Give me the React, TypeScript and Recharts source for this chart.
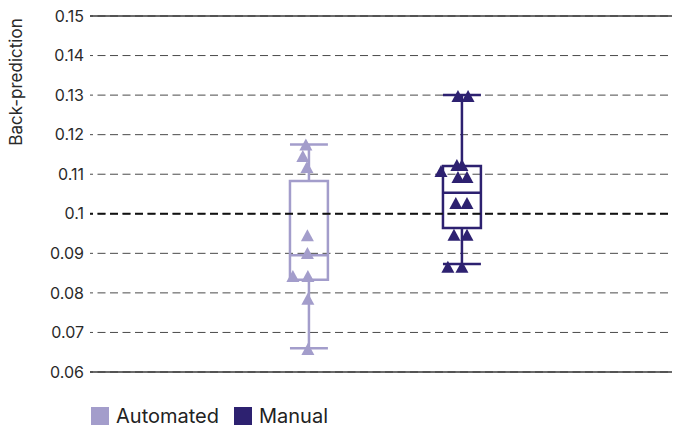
import {
  ComposedChart, Scatter, XAxis, YAxis, CartesianGrid,
  ReferenceArea, ReferenceLine,
} from 'recharts';

const SERIES = ['Automated', 'Manual'];
const COLORS = ['#a39dcb', '#2d2170'];

// box stats per series: [whiskerLow, q1, median, q3, whiskerHigh]
const automatedBox = [0.066, 0.0833, 0.0895, 0.1083, 0.1175];
const manualBox = [0.0873, 0.0964, 0.1053, 0.1121, 0.1300];

// points: x offset from the category centre (in category units), value
const automatedOffsets = [-0.02, -0.04, -0.013, -0.01, -0.01, -0.105, -0.007, -0.007, -0.007];
const automatedValues = [0.1175, 0.1146, 0.1118, 0.0946, 0.0901, 0.0843, 0.0843, 0.0785, 0.0658];

const manualOffsets = [-0.026, 0.04, -0.033, 0, -0.137, -0.026, 0.033, -0.04, 0.033, -0.052, 0.033, -0.092, 0];
const manualValues = [0.1298, 0.1298, 0.1123, 0.1123, 0.1108, 0.1093, 0.1093, 0.1027, 0.1027, 0.0947, 0.0947, 0.0866, 0.0866];

const yTicks = [0.06, 0.07, 0.08, 0.09, 0.1, 0.11, 0.12, 0.13, 0.14, 0.15];

const BOX_HALF = 0.124;
const FONT = 'Inter, "Noto Sans", sans-serif';
const DASH = '8 4.5';

const toPoints = (centre: number, offsets: number[], values: number[]) =>
  values.map((v, i) => ({ x: centre + offsets[i], y: v }));

const Triangle = (color: string) => (props: any) => {
  const { cx, cy } = props;
  const w = 13, h = 12;
  return (
    <polygon
      points={`${cx - w / 2},${cy + h / 2} ${cx + w / 2},${cy + h / 2} ${cx},${cy - h / 2}`}
      fill={color}
    />
  );
};

function BoxPlot(centre: number, stats: number[], color: string, key: string) {
  const [lo, q1, med, q3, hi] = stats;
  const sw = 2.5;
  return [
    <ReferenceLine key={key + 'w1'} segment={[{ x: centre, y: lo }, { x: centre, y: q1 }]} stroke={color} strokeWidth={sw} />,
    <ReferenceLine key={key + 'w2'} segment={[{ x: centre, y: q3 }, { x: centre, y: hi }]} stroke={color} strokeWidth={sw} />,
    <ReferenceLine key={key + 'c1'} segment={[{ x: centre - BOX_HALF, y: lo }, { x: centre + BOX_HALF, y: lo }]} stroke={color} strokeWidth={sw} />,
    <ReferenceLine key={key + 'c2'} segment={[{ x: centre - BOX_HALF, y: hi }, { x: centre + BOX_HALF, y: hi }]} stroke={color} strokeWidth={sw} />,
    <ReferenceArea key={key + 'b'} x1={centre - BOX_HALF} x2={centre + BOX_HALF} y1={q1} y2={q3}
      fill="none" fillOpacity={0} stroke={color} strokeWidth={sw} strokeOpacity={1} />,
    <ReferenceLine key={key + 'm'} segment={[{ x: centre - BOX_HALF, y: med }, { x: centre + BOX_HALF, y: med }]} stroke={color} strokeWidth={sw} />,
  ];
}

export default function App() {
  const autoPts = toPoints(1, automatedOffsets, automatedValues);
  const manualPts = toPoints(2, manualOffsets, manualValues);

  return (
    <div style={{ position: 'absolute', left: 0, top: 0, width: 673, height: 431, background: '#fff', fontFamily: FONT }}>
      <ComposedChart width={673} height={400} margin={{ top: 16, right: 1, bottom: 28, left: 0 }}>
        <CartesianGrid vertical={false} stroke="#4a4a4a" strokeDasharray={DASH} strokeDashoffset={5} />
        <XAxis type="number" dataKey="x" domain={[-0.431, 3.373]} allowDataOverflow hide />
        <YAxis
          type="number"
          dataKey="y"
          domain={[0.06, 0.15]}
          allowDataOverflow
          ticks={yTicks}
          width={90}
          axisLine={false}
          tickLine={false}
          tickSize={0}
          tickMargin={6}
          tick={{ fontSize: 16, fill: '#2a2a2a', fontFamily: FONT }}
          tickFormatter={(v: number) => String(Number(v.toFixed(2)))}
        />
        <ReferenceLine y={0.15} stroke="#3a3a3a" strokeWidth={1.5} />
        <ReferenceLine y={0.06} stroke="#3a3a3a" strokeWidth={1.5} />
        <ReferenceLine y={0.1} stroke="#111" strokeWidth={2} strokeDasharray={DASH} strokeDashoffset={5} />
        {BoxPlot(1, automatedBox, COLORS[0], 'a')}
        {BoxPlot(2, manualBox, COLORS[1], 'm')}
        <Scatter name={SERIES[0]} data={autoPts} dataKey="y" shape={Triangle(COLORS[0])} isAnimationActive={false} />
        <Scatter name={SERIES[1]} data={manualPts} dataKey="y" shape={Triangle(COLORS[1])} isAnimationActive={false} />
      </ComposedChart>
      <div style={{ position: 'absolute', left: 16, top: 82, transform: 'translate(-50%, -50%) rotate(-90deg)', whiteSpace: 'nowrap', fontSize: 17, color: '#2a2a2a', lineHeight: '20px' }}>
        Back-prediction
      </div>
      <div style={{ position: 'absolute', left: 91, top: 407, display: 'flex', alignItems: 'center', fontSize: 20, color: '#222' }}>
        {SERIES.map((s, i) => (
          <div key={s} style={{ display: 'flex', alignItems: 'center', marginRight: 15 }}>
            <div style={{ width: 18, height: 18, background: COLORS[i], marginRight: 7 }} />
            <span style={{ lineHeight: '18px' }}>{s}</span>
          </div>
        ))}
      </div>
    </div>
  );
}
